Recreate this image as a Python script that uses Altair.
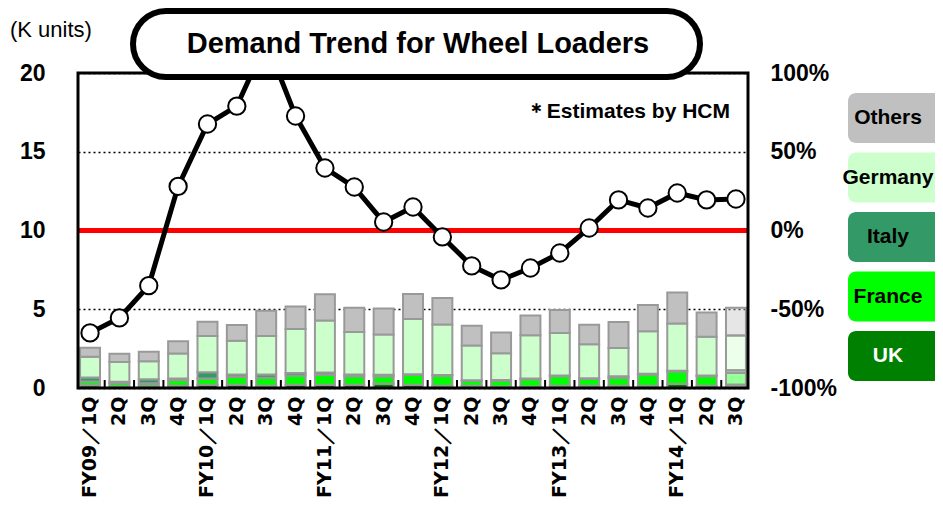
import altair as alt
import pandas as pd

quarters = ["FY09／1Q", "FY09／2Q", "FY09／3Q", "FY09／4Q",
            "FY10／1Q", "FY10／2Q", "FY10／3Q", "FY10／4Q",
            "FY11／1Q", "FY11／2Q", "FY11／3Q", "FY11／4Q",
            "FY12／1Q", "FY12／2Q", "FY12／3Q", "FY12／4Q",
            "FY13／1Q", "FY13／2Q", "FY13／3Q", "FY13／4Q",
            "FY14／1Q", "FY14／2Q", "FY14／3Q"]

uk = [0.17, 0.10, 0.15, 0.15, 0.20, 0.20, 0.15, 0.20, 0.20, 0.20, 0.27, 0.20,
      0.15, 0.15, 0.10, 0.10, 0.15, 0.15, 0.15, 0.15, 0.25, 0.15, 0.20]
france = [0.25, 0.20, 0.15, 0.35, 0.40, 0.50, 0.50, 0.60, 0.63, 0.55, 0.47, 0.63,
          0.63, 0.30, 0.36, 0.45, 0.60, 0.42, 0.49, 0.70, 0.80, 0.60, 0.76]
italy = [0.25, 0.10, 0.25, 0.10, 0.40, 0.15, 0.20, 0.15, 0.15, 0.10, 0.10, 0.05,
         0.05, 0.05, 0.05, 0.05, 0.05, 0.05, 0.10, 0.05, 0.05, 0.05, 0.17]
germany = [1.31, 1.25, 1.15, 1.59, 2.30, 2.15, 2.45, 2.80, 3.30, 2.70, 2.55, 3.50,
           3.20, 2.20, 1.70, 2.75, 2.70, 2.15, 1.80, 2.70, 3.00, 2.45, 2.20]
others = [0.57, 0.53, 0.60, 0.78, 0.90, 1.00, 1.60, 1.43, 1.67, 1.55, 1.66, 1.59,
          1.69, 1.25, 1.32, 1.25, 1.45, 1.25, 1.65, 1.67, 1.97, 1.55, 1.77]

growth = [-65, -55.5, -35, 28, 67.6, 79, 120, 72.7, 39.7, 27.6, 5.4, 14.9,
          -4.1, -22.5, -31.4, -23.8, -14.3, 1.6, 19.4, 14.3, 23.8, 19.4, 20]

countries = ["UK", "France", "Italy", "Germany", "Others"]
colors = ["#008000", "#00ff00", "#339966", "#ccffcc", "#c0c0c0"]
series = [uk, france, italy, germany, others]

title_text = "Demand Trend for Wheel Loaders"
unit_text = "(K units)"
note_text = "＊Estimates by HCM"
estimate_q = quarters[-1]

rows = []
for ci, (c, vals) in enumerate(zip(countries, series)):
    for q, v in zip(quarters, vals):
        rows.append({"quarter": q, "country": c, "value": v, "ord": ci})
bar_df = pd.DataFrame(rows)
line_df = pd.DataFrame({"quarter": quarters, "growth": growth})
q_df = pd.DataFrame({"quarter": quarters[1:]})

W, H = 670, 315
FONT = "Liberation Sans"

xscale = alt.Scale(paddingInner=0.32, paddingOuter=0.07)
X = alt.X("quarter:N", sort=quarters, scale=xscale,
          axis=alt.Axis(title=None, labelAngle=270, labelAlign="right", labelBaseline="middle",
                        labelFont="DejaVu Sans", labelFontSize=19, labelFontWeight="bold",
                        labelColor="black", labelPadding=8, ticks=False, domain=False,
                        labelExpr="indexof(datum.label, '1Q') >= 0 ? datum.label : substring(datum.label, 5)"))

left_y = alt.Y("value:Q", stack="zero", scale=alt.Scale(domain=[0, 20], nice=False),
               axis=alt.Axis(title=None, values=[0, 5, 10, 15, 20], ticks=False, tickSize=0,
                             domain=False, grid=True, gridColor="black", gridDash=[2, 3],
                             gridWidth=1.5, labelFont=FONT, labelFontSize=23,
                             labelFontWeight="bold", labelColor="black", labelPadding=33))

bars = alt.Chart(bar_df).mark_bar(stroke="#999999", strokeWidth=2).encode(
    x=X,
    y=left_y,
    color=alt.Color("country:N", scale=alt.Scale(domain=countries, range=colors), legend=None),
    order=alt.Order("ord:Q"),
    fillOpacity=alt.condition(alt.datum.quarter == estimate_q, alt.value(0.4), alt.value(1.0)),
)

ticks = alt.Chart(q_df).mark_rule(color="black", strokeWidth=2, xOffset=-14.7).encode(
    x=alt.X("quarter:N", sort=quarters, scale=xscale),
    y=alt.value(H),
    y2=alt.value(H - 8),
)

left = alt.layer(bars, ticks)

rscale = alt.Scale(domain=[-100, 100], nice=False)
raxis = alt.Axis(title=None, orient="right", values=[-100, -50, 0, 50, 100], ticks=False,
                 tickSize=0, domain=False, grid=False, labelFont=FONT, labelFontSize=23,
                 labelFontWeight="bold", labelColor="black", labelPadding=22,
                 labelExpr="datum.value + '%'")

zero_df = pd.DataFrame({"growth": [0]})
red = alt.Chart(zero_df).mark_rule(color="#ff0000", strokeWidth=5).encode(
    y=alt.Y("growth:Q", scale=rscale, axis=raxis))
line = alt.Chart(line_df).mark_line(color="black", strokeWidth=5).encode(
    x=alt.X("quarter:N", sort=quarters, scale=xscale),
    y=alt.Y("growth:Q", scale=rscale, axis=raxis))
pts = alt.Chart(line_df).mark_point(shape="circle", filled=True, fill="white", stroke="black",
                                    strokeWidth=2, size=300, opacity=1).encode(
    x=alt.X("quarter:N", sort=quarters, scale=xscale),
    y=alt.Y("growth:Q", scale=rscale, axis=raxis))

right = alt.layer(red, line, pts)

one = pd.DataFrame({"t": [0]})
frame = alt.Chart(one).mark_rect(fillOpacity=0, stroke="black", strokeWidth=3).encode(
    x=alt.value(0), x2=alt.value(W), y=alt.value(0), y2=alt.value(H))
balloon = alt.Chart(one).mark_rect(fill="white", stroke="black", strokeWidth=6,
                                   cornerRadius=36).encode(
    x=alt.value(55), x2=alt.value(622), y=alt.value(-62), y2=alt.value(4))
title = alt.Chart(one).mark_text(text=title_text, font=FONT, fontSize=29, fontWeight="bold",
                                 color="black", align="center", baseline="middle").encode(
    x=alt.value(340), y=alt.value(-29))
units = alt.Chart(one).mark_text(text=unit_text, font=FONT, fontSize=22, color="black",
                                 align="left", baseline="middle").encode(
    x=alt.value(-68), y=alt.value(-43))
note = alt.Chart(one).mark_text(text=note_text, font=FONT, fontSize=21, fontWeight="bold",
                                color="black", align="right", baseline="middle").encode(
    x=alt.value(652), y=alt.value(39))

legend_layers = []
legend_order = list(reversed(countries))
legend_colors = list(reversed(colors))
for i, (name, col) in enumerate(zip(legend_order, legend_colors)):
    top = 20 + 59.5 * i
    legend_layers.append(alt.Chart(one).mark_rect(fill=col, cornerRadius=8).encode(
        x=alt.value(770), x2=alt.value(885), y=alt.value(top), y2=alt.value(top + 50)))
    legend_layers.append(alt.Chart(one).mark_text(
        text=name, font=FONT, fontSize=21, fontWeight="bold",
        color="white" if name == "UK" else "black",
        align="center", baseline="middle").encode(x=alt.value(810), y=alt.value(top + 25)))

main = alt.layer(left, right).resolve_scale(y="independent")

chart = alt.layer(main, frame, balloon, title, units, note, *legend_layers).properties(
    width=W, height=H,
    autosize=alt.AutoSizeParams(type="none"),
    padding={"left": 70, "top": 65, "right": 187, "bottom": 116},
).configure_view(strokeWidth=0).configure(background="white")

chart.save("out.html", embed_options={"renderer": "svg", "actions": False})
